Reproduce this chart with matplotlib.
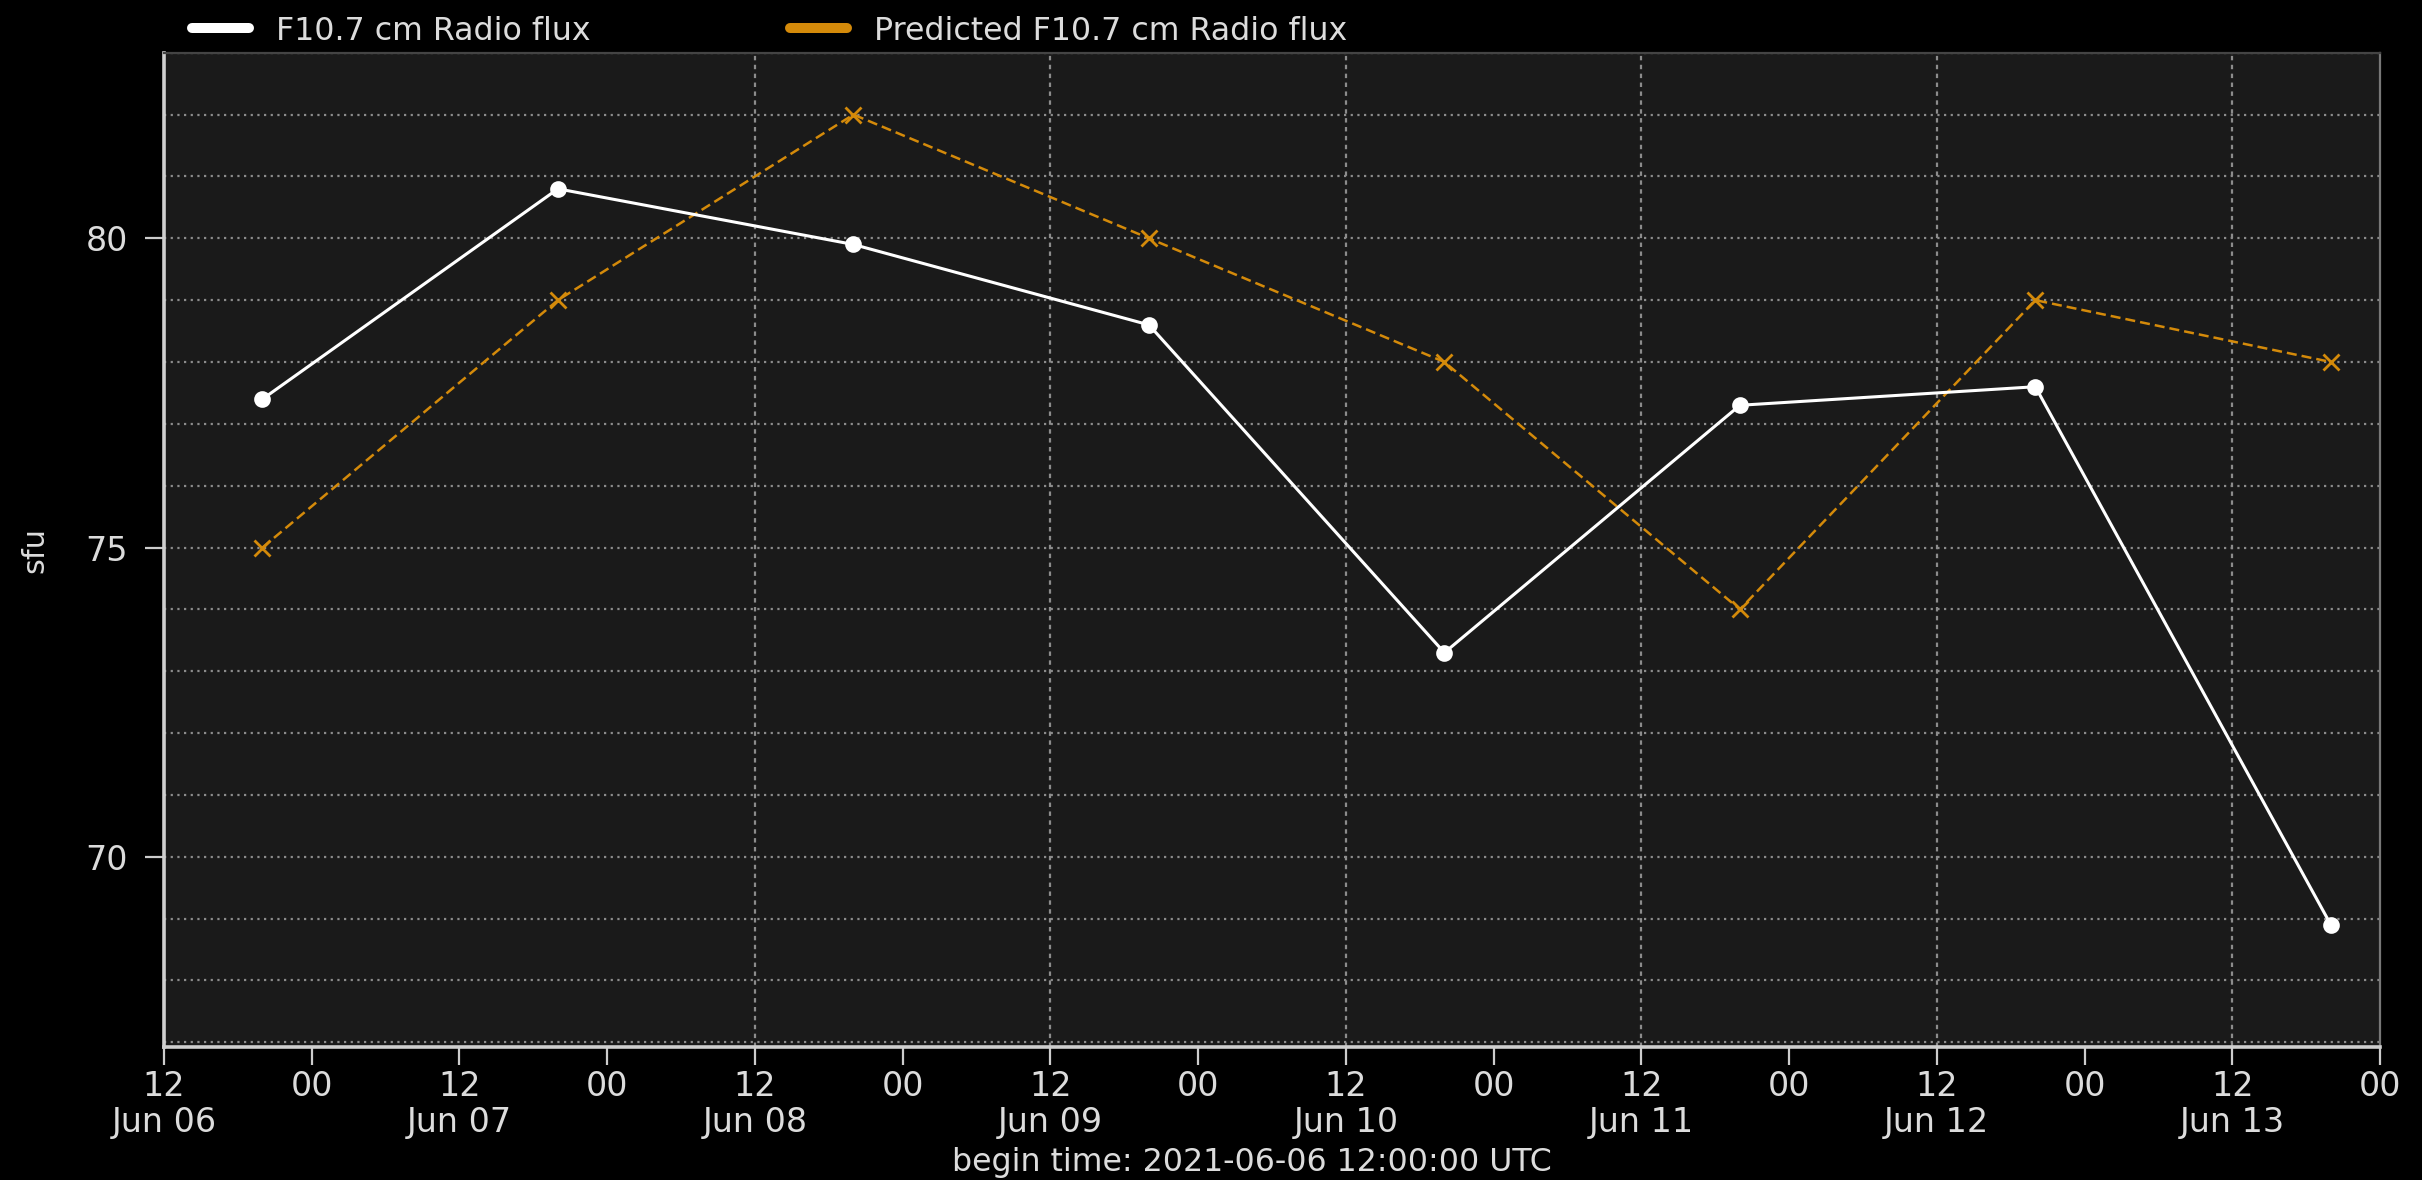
import matplotlib
matplotlib.use("Agg")
import matplotlib.pyplot as plt
import matplotlib.dates as mdates
from matplotlib.lines import Line2D
import numpy as np
from datetime import datetime

# ---- data ----
times = ["2021-06-06 20:00", "2021-06-07 20:00", "2021-06-08 20:00", "2021-06-09 20:00",
         "2021-06-10 20:00", "2021-06-11 20:00", "2021-06-12 20:00", "2021-06-13 20:00"]
measured = [77.4, 80.8, 79.9, 78.6, 73.3, 77.3, 77.6, 68.9]
predicted = [75, 79, 82, 80, 78, 74, 79, 78]
series_labels = ["F10.7 cm Radio flux", "Predicted F10.7 cm Radio flux"]
x_start = "2021-06-06 12:00"
x_end = "2021-06-14 00:00"
vgrid_times = ["2021-06-08 12:00", "2021-06-09 12:00", "2021-06-10 12:00",
               "2021-06-11 12:00", "2021-06-12 12:00", "2021-06-13 12:00"]
ylabel = "sfu"
xlabel = "begin time: 2021-06-06 12:00:00 UTC"

t = [datetime.strptime(s, "%Y-%m-%d %H:%M") for s in times]
t0 = datetime.strptime(x_start, "%Y-%m-%d %H:%M")
t1 = datetime.strptime(x_end, "%Y-%m-%d %H:%M")
tv = [datetime.strptime(s, "%Y-%m-%d %H:%M") for s in vgrid_times]

WHITE = "#ffffff"
ORANGE = "#d48a0a"
TXT = "#dcdcdc"
GRID = "#8c8c8c"

plt.rcParams['font.family'] = ['DejaVu Sans']
fig = plt.figure(figsize=(12.11, 5.9), dpi=200, facecolor="black")
ax = fig.add_axes([0.0677, 0.1130, 0.9827 - 0.0677, 0.9553 - 0.1130])
ax.set_facecolor("#1a1a1a")

# grid
ax.set_ylim(66.93, 83.0)
ax.set_xlim(t0, t1)
ax.yaxis.set_major_locator(matplotlib.ticker.MultipleLocator(5))
ax.yaxis.set_minor_locator(matplotlib.ticker.MultipleLocator(1))
ax.grid(True, which="both", axis="y", color=GRID, lw=0.8, ls=(0, (1, 2)), zorder=1)
for v in tv:
    ax.axvline(v, color=GRID, lw=0.8, ls=(0, (2, 2)), zorder=1)
ax.set_axisbelow(True)

ax.plot(t, predicted, color=ORANGE, lw=0.9, ls=(0, (4, 2)), marker="x", ms=5.5,
        mew=1.0, zorder=3)
ax.plot(t, measured, color=WHITE, lw=1.1, marker="o", ms=5, zorder=4)

# x ticks
ax.xaxis.set_major_locator(mdates.HourLocator(byhour=12))
ax.xaxis.set_major_formatter(mdates.DateFormatter("%H\n%b %d"))
ax.xaxis.set_minor_locator(mdates.HourLocator(byhour=0))
ax.xaxis.set_minor_formatter(mdates.DateFormatter("%H"))
ax.tick_params(axis="x", which="both", length=6.5, width=0.8, color="#cccccc",
               labelcolor=TXT, labelsize=12, pad=2)
ax.tick_params(axis="y", which="major", length=7, width=0.8, color="#cccccc",
               labelcolor=TXT, labelsize=12, pad=6)
ax.tick_params(axis="y", which="minor", length=0)
for lbl in ax.get_xticklabels():
    lbl.set_linespacing(1.1)

for side in ["left", "bottom"]:
    ax.spines[side].set_color("#cfcfcf")
    ax.spines[side].set_linewidth(1.3)
ax.spines["top"].set_color("#444444")
ax.spines["right"].set_color("#777777")
for side in ["top", "right"]:
    ax.spines[side].set_linewidth(0.8)

ax.set_ylabel(ylabel, color=TXT, fontsize=11, labelpad=13)
ax.set_xlabel(xlabel, color=TXT, fontsize=11.4)
ax.xaxis.set_label_coords(0.491, -0.117)
ax.xaxis.label.set_va("center")

handles = [Line2D([], [], color=WHITE, lw=3.6, solid_capstyle="round"),
           Line2D([], [], color=ORANGE, lw=3.6, solid_capstyle="round")]
leg = fig.legend(handles, series_labels, loc="upper left", bbox_to_anchor=(0.0675, 1.011),
                 ncol=2, frameon=False, fontsize=11.4, handlelength=1.8,
                 handletextpad=0.85, columnspacing=6.3)
for txt in leg.get_texts():
    txt.set_color(TXT)

fig.savefig("out.png", dpi=200, facecolor="black")
